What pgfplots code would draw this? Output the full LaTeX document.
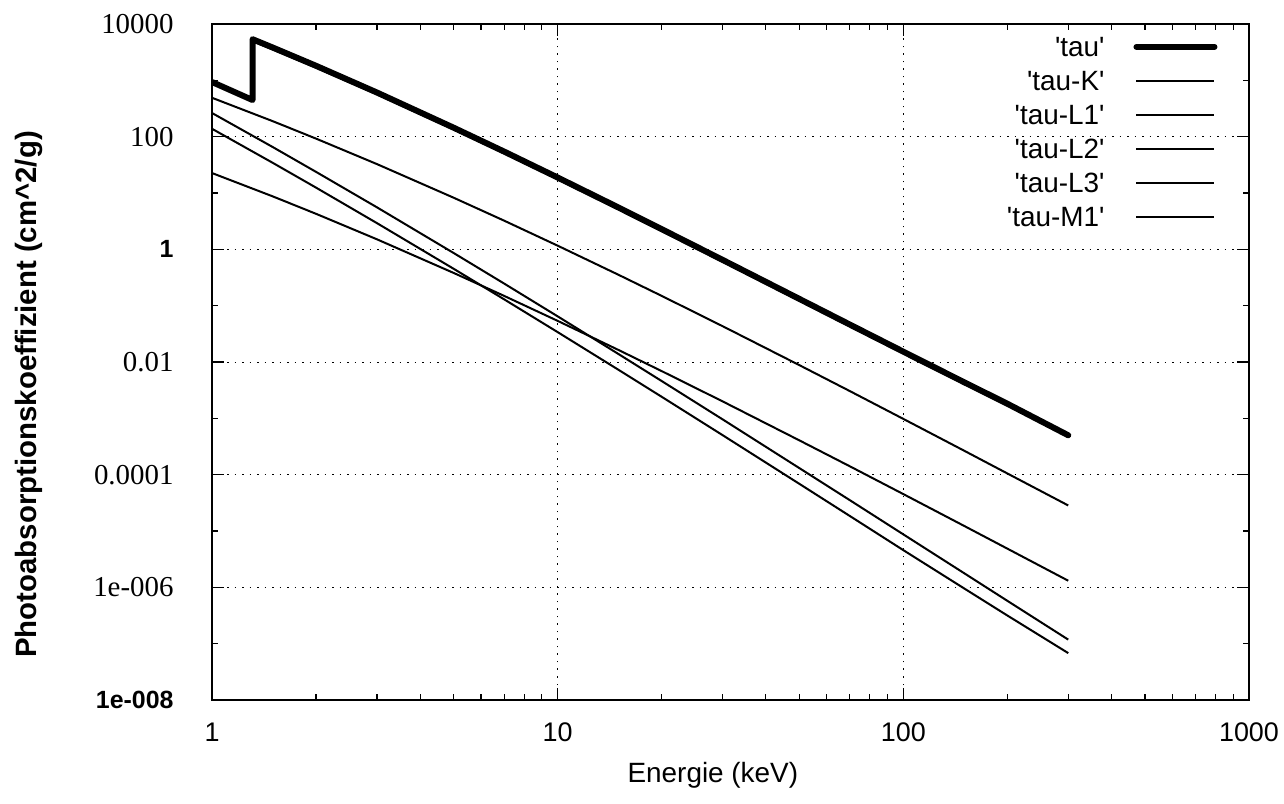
\documentclass[border=0pt]{standalone}
\usepackage{pgfplots}
\pgfplotsset{compat=1.18}
\usepackage{fontspec}
\setmainfont{Liberation Sans}
\newfontfamily\serifnum{Liberation Serif}
\newcommand{\q}{\textquotesingle}

% Photoabsorption coefficients (cm^2/g) against photon energy (keV)
\pgfplotstableread{
E      tau
1      933
1.31   447
1.31   5370
1.5    3813
2      1811
3      608
5      144.4
7      54.4
10     18.83
15     5.52
20     2.28
30     0.650
50     0.1321
70     0.04626
100    0.01525
150    4.37e-3
200    1.815e-3
300    5.0e-4
}\tautotal
\pgfplotstableread{
E      tau
1.31   4939
1.5    3517
2      1678
3      565
5      134.5
7      50.6
10     17.52
15     5.13
20     2.117
30     0.603
50     0.1227
70     0.04302
100    0.01422
150    4.09e-3
200    1.705e-3
300    4.70e-4
}\tauK
\pgfplotstableread{
E      tau
1      490
1.5    187.9
2      92.3
3      32.6
5      8.25
7      3.23
10     1.161
15     0.353
20     0.149
30     0.04325
50     8.81e-3
70     3.05e-3
100    9.77e-4
150    2.66e-4
200    1.05e-4
300    2.84e-5
}\tauLone
\pgfplotstableread{
E      tau
1      138
1.5    34.2
2      12.45
3      2.92
5      0.452
7      0.1296
10     0.0339
15     7.26e-3
20     2.41e-3
30     5.03e-4
50     6.89e-5
70     1.85e-5
100    4.57e-6
150    9.55e-7
200    3.16e-7
300    6.8e-8
}\tauLtwo
\pgfplotstableread{
E      tau
1      263
1.5    65.2
2      23.7
3      5.57
5      0.861
7      0.247
10     0.0646
15     0.01383
20     4.59e-3
30     9.59e-4
50     1.31e-4
70     3.53e-5
100    8.71e-6
150    1.78e-6
200    5.76e-7
300    1.18e-7
}\tauLthree
\pgfplotstableread{
E      tau
1      22.6
1.5    8.69
2      4.27
3      1.507
5      0.3813
7      0.1492
10     0.0537
15     0.01633
20     6.89e-3
30     2.0e-3
50     4.07e-4
70     1.41e-4
100    4.52e-5
150    1.23e-5
200    4.86e-6
300    1.31e-6
}\tauMone

\begin{document}
\begin{tikzpicture}[x=1bp,y=1bp]
\useasboundingbox (0,0) rectangle (1284,804);
\begin{axis}[
  at={(212bp,104bp)}, anchor=south west,
  scale only axis, width=1037bp, height=676bp,
  xmode=log, ymode=log,
  xmin=1, xmax=1000, ymin=1e-8, ymax=1e4,
  axis line style={line width=1.5bp},
  tick align=inside,
  every tick/.style={black, line width=1.2bp},
  major tick length=12bp, minor tick length=6bp,
  xtick={1,10,100,1000},
  xticklabels={1,10,100,1000},
  minor xtick={2,3,4,5,6,7,8,9,20,30,40,50,60,70,80,90,200,300,400,500,600,700,800,900},
  ytick={1e-8,1e-6,1e-4,1e-2,1,100,10000},
  yticklabels={{\fontsize{25}{25}\selectfont\bfseries 1e-008},{\serifnum 1e-006},{\serifnum 0.0001},{\serifnum 0.01},{\fontsize{25}{25}\selectfont\bfseries 1},{\serifnum 100},{\serifnum 10000}},
  minor ytick={1e-7,1e-5,1e-3,0.1,10,1000},
  grid=major,
  major grid style={black, line width=0.9bp, dash pattern=on 1.5bp off 6bp},
  x tick label style={font=\fontsize{27}{27}\selectfont, yshift=-19bp},
  y tick label style={font=\fontsize{29}{29}\selectfont, xshift=-35bp},
  xlabel={Energie (keV)},
  xlabel style={at={(axis description cs:0.483,-0.111)}, anchor=center, font=\fontsize{28}{28}\selectfont},
  ylabel={Photoabsorptionskoeffizient (cm\textasciicircum 2/g)},
  ylabel style={at={(axis description cs:-0.1765,0.452)}, anchor=center, font=\fontsize{29.5}{29.5}\selectfont\bfseries},
  legend plot pos=right,
  legend cell align=right,
  legend image code/.code={\draw[#1] (0bp,0bp) -- (78bp,0bp);},
  legend style={at={(0.9696,0.981)}, anchor=north east, draw=none, fill=none,
    inner sep=0pt, outer sep=0pt, row sep=14bp,
    font=\fontsize{28}{28}\selectfont,
    nodes={inner sep=0pt, text height=20bp, text depth=0bp},
    /tikz/every odd column/.append style={column sep=29bp}},
]
\addplot[black, line width=6bp, line join=round, line cap=round] table[x=E, y=tau] {\tautotal};
\addlegendentry{\q tau\q}
\addplot[black, line width=2bp] table[x=E, y=tau] {\tauK};
\addlegendentry{\q tau-K\q}
\addplot[black, line width=2bp] table[x=E, y=tau] {\tauLone};
\addlegendentry{\q tau-L1\q}
\addplot[black, line width=2bp] table[x=E, y=tau] {\tauLtwo};
\addlegendentry{\q tau-L2\q}
\addplot[black, line width=2bp] table[x=E, y=tau] {\tauLthree};
\addlegendentry{\q tau-L3\q}
\addplot[black, line width=2bp] table[x=E, y=tau] {\tauMone};
\addlegendentry{\q tau-M1\q}
\end{axis}
\end{tikzpicture}
\end{document}
